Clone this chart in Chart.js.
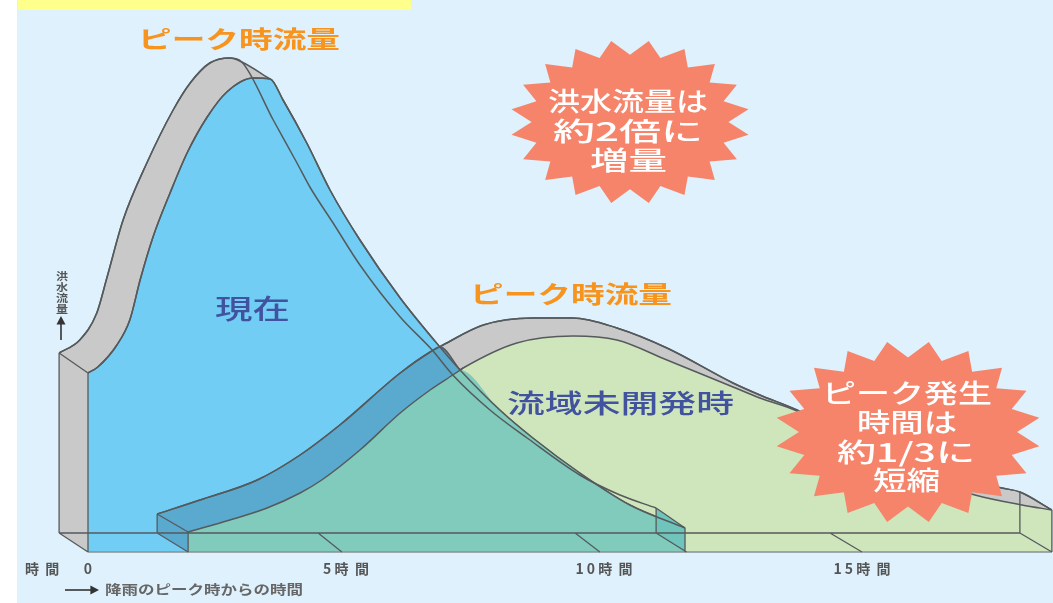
<!DOCTYPE html>
<html lang="ja"><head><meta charset="utf-8">
<style>html,body{margin:0;padding:0;background:#fff}canvas{display:block;filter:blur(0.5px)}</style>
<script src="https://cdn.jsdelivr.net/npm/chart.js@4"></script></head>
<body><canvas id="c" width="1053" height="603" style="width:1053px;height:603px"></canvas>
<script>
// hours after peak rainfall / flood flow (relative units)
const currentFrontH=[0,.19,.56,.81,1.01,1.26,1.59,1.92,2.31,2.69,3.2,3.53,3.78,4.24,4.69,5.27,6.05,6.82,7.21,7.98,8.62,9.53,10.5,11.57];
const currentFrontF=[35.8,37,41.4,46.4,54.4,63,71.8,79.8,87,92,94.8,94.6,90.4,81.8,72.4,62.4,50.8,41,36.4,28.4,22.8,15.8,9.4,4.8];
const currentBackH=[-.56,-.16,.17,.37,.68,1.14,1.65,1.98,2.36,2.75,2.98,3.59,4.05,4.3,4.75,5.27,6.05,6.67,7.07,7.79,8.51,9.53,10.31,11.01];
const currentBackF=[39.8,42.4,47.8,55,66.4,77.8,88.4,93.8,97.8,98.8,98,86.4,77.8,73,65.8,57.4,47,40.4,35.4,28.4,22.8,15.4,11.4,8.8];
const currentShoulderH=[-.56,-.16,.17,.37,.68,1.14,1.65,1.98,2.36,2.75,2.98,3.53];
const currentShoulderF=[39.8,42.4,47.8,55,66.4,77.8,88.4,93.8,97.8,98.8,98,94.6];
const currentFloorH=[-.56,0,3.6];
const currentFloorF=[3.8,0,0];
const undevFrontH=[1.94,2.75,3.47,4.11,4.53,5.27,6.05,6.63,7.07,7.27,8.31,9.4,10.25,11.22,12.5,13.02,13.74,15.74,17.19,18.1,18.68];
const undevFrontF=[4,6.4,8.8,11.8,14.4,20.4,27.8,32.4,35.4,36.8,41.8,43.2,42.4,38.4,33,30.8,28.2,16.4,11.4,9.4,8.4];
const undevBackH=[1.34,2.17,3.28,4.11,4.88,6.05,6.63,6.88,7.66,8.62,9.4,10.25,11.22,12.5,13.02,13.74,15.74,17.71,18.06,18.68];
const undevBackF=[7.6,10.4,14.4,19.4,25.4,35.8,40,41.4,45.4,46.8,46.8,44.8,40.8,33.8,31.4,28.4,17.4,12.8,12,8.4];
const bandOverlapH=[1.34,2.17,3.28,4.11,4.88,6.05,6.63,6.82,7.21,7.3];
const bandOverlapF=[7.6,10.4,14.4,19.4,25.4,35.8,40,41,36.4,35.4];
const bandFloorH=[1.34,1.94,7.3];
const bandFloorF=[3.8,0,0];
const overlapH=[1.94,2.75,3.47,4.11,4.53,5.27,6.05,6.63,7.07,7.21,7.98,8.62,9.53,10.5,11.57];
const overlapF=[4,6.4,8.8,11.8,14.4,20.4,27.8,32.4,35.4,36.4,28.4,22.8,15.8,9.4,4.8];
const endFaceTopH=[11.01,11.57];
const endFaceTopF=[8.8,4.8];
const endFaceFloorH=[11.01,11.57];
const endFaceFloorF=[3.8,0];
const baseH=[0,18.68];
const baseF=[0,0];
const frameH=[-.56,18.06,0,-.56,0,0,1.34,1.94,0,11.01,11.6,0,18.06,18.68,0,4.46,4.92,0,9.44,9.92,0,14.38,15,0,-.56,-.56,0,0,0,0,1.34,1.34,0,1.94,1.94,0,11.01,11.01,0,11.57,11.57,0,18.06,18.06,0,18.68,18.68,0,-.56,0,0,1.34,1.94,0,11.01,11.57];
const frameF=[3.8,3.8,null,3.8,0,null,3.8,0,null,3.8,0,null,3.8,0,null,3.8,0,null,3.8,0,null,3.8,0,null,39.8,3.8,null,35.8,0,null,7.6,3.8,null,4,0,null,8.8,3.8,null,4.8,0,null,12,3.8,null,8.4,0,null,39.8,35.8,null,7.6,4,null,8.8,4.8];
const tickValues=[-.89,0,5,10,15];
const tickLabels=['時  間','0','5 時  間','1 0 時  間','1 5 時  間'];
const peakLabel='ピーク時流量';
const currentLabel='現在';
const undevLabel='流域未開発時';
const burstA=['洪水流量は','約2倍に','増量'];
const burstB=['ピーク発生','時間は','約1/3に','短縮'];
const yAxisChars=['洪','水','流','量'];
const xCaption='降雨のピーク時からの時間';

const stroke='#555a5c';
const pts=(h,f)=>h.map((v,i)=>({x:v,y:f[i]}));
function ds(h,f,o={}){return Object.assign({data:pts(h,f),pointRadius:0,pointHoverRadius:0,borderColor:stroke,borderWidth:1.5,cubicInterpolationMode:'monotone',fill:false,clip:false,spanGaps:false},o);}
const straight={cubicInterpolationMode:'default',tension:0};
const layers=[
 ds(undevBackH,undevBackF,{fill:'origin',backgroundColor:'#c9c9c9'}),
 ds(undevFrontH,undevFrontF,{fill:'origin',backgroundColor:'#cfe5bb'}),
 ds(currentFloorH,currentFloorF,{borderWidth:0,...straight}),
 ds(currentShoulderH,currentShoulderF,{fill:2,backgroundColor:'#c9c9c9'}),
 ds(currentFrontH,currentFrontF,{fill:'origin',backgroundColor:'#72cdf4'}),
 ds(bandFloorH,bandFloorF,{borderWidth:0,...straight}),
 ds(bandOverlapH,bandOverlapF,{fill:5,backgroundColor:'#5aaacf'}),
 ds(overlapH,overlapF,{fill:'origin',backgroundColor:'#80cbbb',borderWidth:0}),
 ds(endFaceFloorH,endFaceFloorF,{borderWidth:0,...straight}),
 ds(endFaceTopH,endFaceTopF,{fill:8,backgroundColor:'#6fc5bb',borderWidth:0,...straight}),
 ds(undevBackH,undevBackF),
 ds(undevFrontH.slice(0,10),undevFrontF.slice(0,10)),
 ds(currentBackH,currentBackF),
 ds(currentFrontH,currentFrontF),
 ds(baseH,baseF,{...straight,borderColor:'#8a8f92'}),
 ds(frameH,frameF,{...straight,borderWidth:1.3})
];
layers.forEach((d,i)=>d.order=-i);

function burst(ctx,cx,cy,rx,ry){
 ctx.beginPath();
 for(let i=0;i<40;i++){const t=(i+1)*Math.PI/20-Math.PI/2+Math.PI/20;const r=i%2?1:.82;
  const px=cx+Math.cos(t)*rx*r,py=cy+Math.sin(t)*ry*r;
  i?ctx.lineTo(px,py):ctx.moveTo(px,py);}
 ctx.closePath();ctx.fillStyle='#f6846a';ctx.fill();
}
function label(ctx,t,x0,x1,cy,size,color,weight='bold'){
 ctx.save();ctx.font=weight+' '+size+'px "Noto Sans CJK JP"';ctx.fillStyle=color;ctx.textBaseline='middle';ctx.textAlign='left';
 const w=ctx.measureText(t).width;ctx.translate(x0,cy);ctx.scale((x1-x0)/w,1);ctx.fillText(t,0,0);ctx.restore();
}
function arrow(ctx,x0,y0,x1,y1){
 ctx.save();ctx.strokeStyle='#333';ctx.fillStyle='#333';ctx.lineWidth=1.6;ctx.beginPath();ctx.moveTo(x0,y0);ctx.lineTo(x1,y1);ctx.stroke();
 const a=Math.atan2(y1-y0,x1-x0);ctx.beginPath();ctx.moveTo(x1+Math.cos(a)*2,y1+Math.sin(a)*2);
 ctx.lineTo(x1-Math.cos(a-.6)*8,y1-Math.sin(a-.6)*8);ctx.lineTo(x1-Math.cos(a+.6)*8,y1-Math.sin(a+.6)*8);ctx.closePath();ctx.fill();ctx.restore();
}
const decor={id:'decor',
 beforeDraw(ch){const c=ch.ctx;c.fillStyle='#fff';c.fillRect(0,0,1053,603);c.fillStyle='#dff1fc';c.fillRect(17,0,1036,603);c.fillStyle='#ffff8c';c.fillRect(18,0,393,10);},
 afterDraw(ch){const c=ch.ctx;
  burst(c,630,122,120,82);burst(c,908,432,133,91);
  const o='#f7941d',n='#41529f',w='#ffffff';
  label(c,peakLabel,138,340,39,24,o);label(c,peakLabel,470,672,294,24,o);
  label(c,currentLabel,215,290,309,27,n,'500');label(c,undevLabel,507,734,403,26,n,'500');
  label(c,burstA[0],548,708,101,26,w,'500');label(c,burstA[1],553,703,131,26,w,'500');label(c,burstA[2],590,667,160,26,w,'500');
  label(c,burstB[0],822,992,393,26,w,'500');label(c,burstB[1],857,957,422,26,w,'500');label(c,burstB[2],837,975,452,26,w,'500');label(c,burstB[3],873,940,480,26,w,'500');
  yAxisChars.forEach((t,i)=>label(c,t,56,68,276+i*11,10.5,'#555'));
  arrow(c,61,340,61,318);arrow(c,65,590,97,590);
  label(c,xCaption,105,303,589,13,'#666');
 }};
new Chart(document.getElementById('c'),{type:'line',data:{datasets:layers},plugins:[decor],options:{
 responsive:false,animation:false,devicePixelRatio:1,layout:{padding:0},
 plugins:{legend:{display:false},tooltip:{enabled:false},title:{display:false}},
 scales:{
  x:{type:'linear',min:-88/51.6,max:965/51.6,grid:{display:false},border:{display:false},
   afterBuildTicks:s=>{s.ticks=tickValues.map(v=>({value:v}));},
   afterFit:s=>{s.height=51;},
   ticks:{autoSkip:false,maxRotation:0,padding:0,color:'#555',font:{family:'"Noto Sans CJK JP"',size:14,weight:'bold'},
    callback:v=>tickLabels[tickValues.indexOf(v)]}},
  y:{display:false,min:0,max:110.4}
 }}});
</script></body></html>
